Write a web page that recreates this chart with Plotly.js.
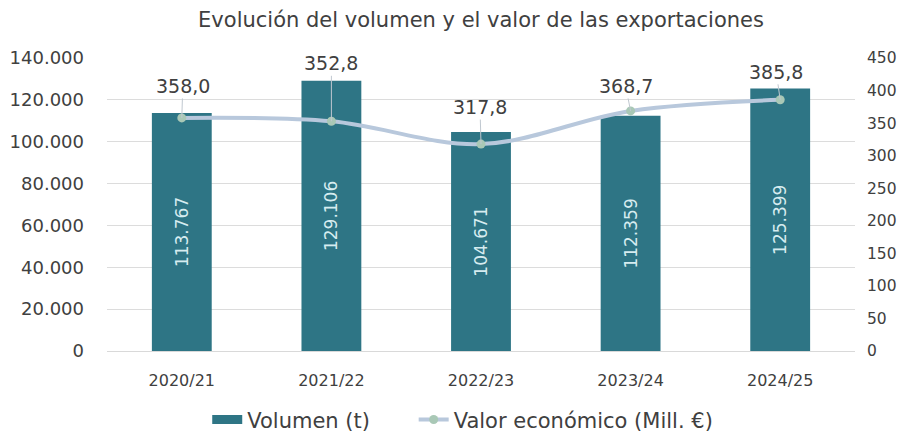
<!DOCTYPE html>
<html><head><meta charset="utf-8">
<script src="https://cdn.plot.ly/plotly-3.0.1.min.js"></script>
<style>html,body{margin:0;padding:0;background:#fff}#c{width:901px;height:432px}</style>
</head><body><div id="c"></div>
<script>
const categories = ['2020/21','2021/22','2022/23','2023/24','2024/25'];
const volumen = [113767, 129106, 104671, 112359, 125399];
const valor = [358.0, 352.8, 317.8, 368.7, 385.8];
const labelOffsets = [[1,-32],[0,-58],[-1,-37],[-5,-25],[-4,-28]];

const FONT = '"DejaVu Sans", sans-serif';
const txt = '#404040';
const barColor = '#2E7585';

const bars = {
  type: 'bar', x: categories, y: volumen, name: 'Volumen (t)',
  marker: {color: barColor}, showlegend: false,
  texttemplate: '%{y:,}', textposition: 'inside', textangle: -90,
  insidetextanchor: 'middle',
  textfont: {color: '#d6ecf0', size: 17, family: FONT},
  hoverinfo: 'skip'
};
const barLegend = {
  type: 'scatter', mode: 'lines', x: [null], y: [null], name: 'Volumen (t)',
  line: {color: barColor, width: 9}, hoverinfo: 'skip', legend: 'legend'
};
const line = {
  type: 'scatter', mode: 'lines+markers', x: categories, y: valor, yaxis: 'y2',
  name: 'Valor económico (Mill. €)', legend: 'legend2',
  line: {color: '#b8c8dc', width: 4, shape: 'spline', smoothing: 1},
  marker: {color: '#a9c8b6', size: 9},
  hoverinfo: 'skip'
};

const annotations = categories.map((c, i) => ({
  x: c, y: valor[i], xref: 'x', yref: 'y2',
  text: valor[i].toFixed(1).replace('.', ','),
  showarrow: true, arrowhead: 0, arrowwidth: 1, arrowcolor: '#c0c8d0',
  ax: labelOffsets[i][0], ay: labelOffsets[i][1],
  standoff: 0, startstandoff: 0,
  font: {family: FONT, size: 19, color: txt}
}));

const legendBase = {orientation: 'h', xanchor: 'left', y: 0.028, yref: 'container', yanchor: 'middle',
  font: {size: 21, color: txt}, itemwidth: 30, bgcolor: 'rgba(0,0,0,0)'};

const layout = {
  width: 901, height: 432,
  margin: {l: 107, r: 46, t: 58, b: 81, autoexpand: false},
  paper_bgcolor: '#fff', plot_bgcolor: '#fff',
  separators: ',.',
  font: {family: FONT, color: txt, size: 16},
  title: {text: 'Evolución del volumen y el valor de las exportaciones',
    x: 0.5, xref: 'paper', y: 0.954, yref: 'container', yanchor: 'middle',
    font: {family: FONT, size: 21, color: txt}},
  bargap: 0.6,
  xaxis: {type: 'category', showgrid: false, showline: true, linecolor: '#d9d9d9',
    ticks: '', ticklabelstandoff: 15, tickfont: {size: 16, color: txt}, automargin: false},
  yaxis: {range: [0, 140000], dtick: 20000, tickformat: ',d', showgrid: true,
    gridcolor: '#dcdcdc', zeroline: false, showline: false, ticks: '',
    ticklabelstandoff: 22, tickfont: {size: 18, color: txt}, automargin: false},
  yaxis2: {range: [0, 450], dtick: 50, overlaying: 'y', side: 'right', showgrid: false,
    zeroline: false, showline: false, ticks: '', ticklabelstandoff: 11,
    tickfont: {size: 15.5, color: txt}, automargin: false},
  showlegend: true,
  legend: Object.assign({}, legendBase, {x: 0.134}),
  legend2: Object.assign({}, legendBase, {x: 0.41}),
  annotations: annotations
};

Plotly.newPlot('c', [bars, barLegend, line], layout, {displayModeBar: false, staticPlot: true});
</script></body></html>
